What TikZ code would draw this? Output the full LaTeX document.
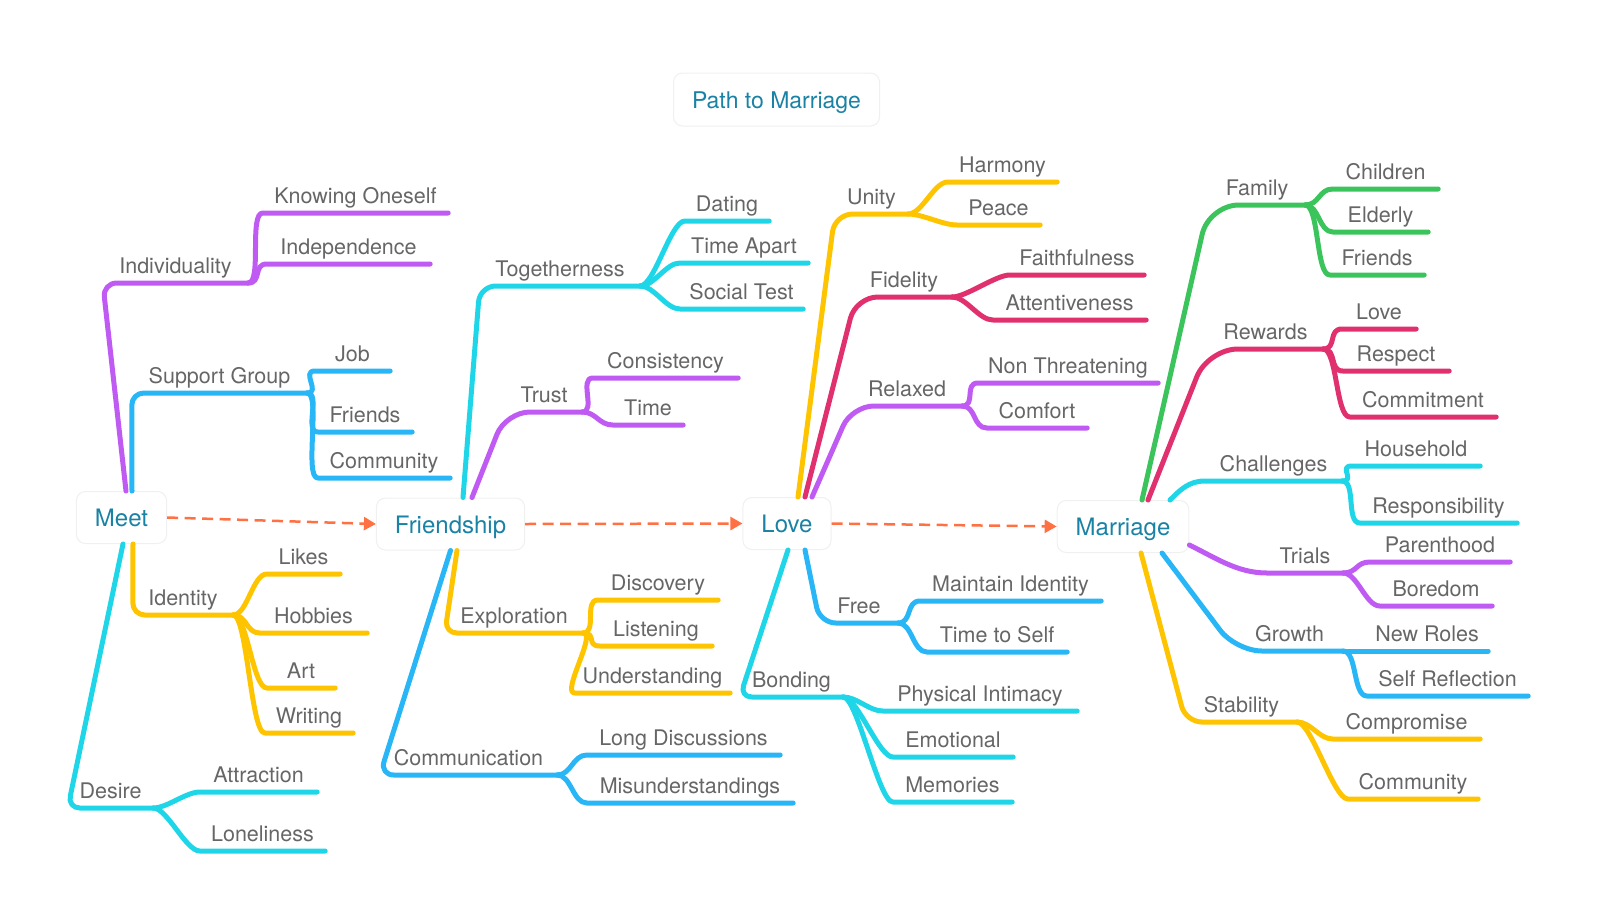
\documentclass[tikz,border=0pt]{standalone}
\usepackage{fontspec}
\setmainfont{TeX Gyre Heros}
\usetikzlibrary{arrows.meta}
\definecolor{mmpurple}{RGB}{191,90,242}
\definecolor{mmblue}{RGB}{41,182,246}
\definecolor{mmcyan}{RGB}{30,214,232}
\definecolor{mmyellow}{RGB}{255,196,0}
\definecolor{mmred}{RGB}{224,49,110}
\definecolor{mmgreen}{RGB}{60,196,92}
\definecolor{labelgray}{RGB}{102,102,102}
\definecolor{topicblue}{RGB}{26,130,165}
\definecolor{flowcolor}{RGB}{255,112,67}

\begin{document}
\begin{tikzpicture}[x=1pt,y=-1pt,
  topic/.style={draw=black!6, line width=1pt, fill=white, rounded corners=9pt, text=topicblue, font=\fontsize{24}{28}\selectfont, minimum height=52pt, inner xsep=18.5pt, text height=18pt, text depth=0pt},
  lbl/.style={anchor=south, inner xsep=0pt, inner ysep=9pt, text depth=0pt, text=labelgray, font=\fontsize{21.5}{26}\selectfont},
  branch/.style={line width=5pt, line cap=round, line join=round},
  purp/.style={branch, draw=mmpurple},
  blu/.style={branch, draw=mmblue},
  cya/.style={branch, draw=mmcyan},
  yel/.style={branch, draw=mmyellow},
  cri/.style={branch, draw=mmred},
  gre/.style={branch, draw=mmgreen},
  twig/.style={out=0, in=180, out distance=14pt, in distance=14pt},
  flow/.style={draw=flowcolor, line width=2.5pt, dash pattern=on 11pt off 6.5pt, -{Triangle[length=12pt,width=13pt]}}]
\useasboundingbox (0,0) rectangle (1600,921);

\node[topic, font=\fontsize{23}{28}\selectfont, minimum height=53pt] (title) at (776.5,99.5) {Path to Marriage};
\node[topic] (meet) at (121.5,517.5) {Meet};
\node[topic] (friend) at (450.5,524) {Friendship};
\node[topic] (love) at (787,523.5) {Love};
\node[topic] (marriage) at (1123,526.5) {Marriage};

\draw[flow] (meet.east) -- (friend.west);
\draw[flow] (friend.east) -- (love.west);
\draw[flow] (love.east) -- (marriage.west);

\node[lbl, minimum width=145pt] (indiv) at (175.5,283) {Individuality};
\node[lbl, minimum width=175pt] (support) at (219.5,393) {Support Group};
\node[lbl, minimum width=100pt] (identity) at (183,615) {Identity};
\node[lbl, minimum width=85pt] (desire) at (110.5,808) {Desire};
\node[lbl, minimum width=160pt] (together) at (560,286) {Togetherness};
\node[lbl, minimum width=76pt] (trust) at (544,412) {Trust};
\node[lbl, minimum width=138pt] (explore) at (514,633) {Exploration};
\node[lbl, minimum width=177pt] (commun) at (468.5,775) {Communication};
\node[lbl, minimum width=73pt] (unity) at (871.5,214) {Unity};
\node[lbl, minimum width=96pt] (fidelity) at (904,297) {Fidelity};
\node[lbl, minimum width=110pt] (relaxed) at (907,406) {Relaxed};
\node[lbl, minimum width=78pt] (free) at (859,623) {Free};
\node[lbl, minimum width=103pt] (bonding) at (791.5,697) {Bonding};
\node[lbl, minimum width=96pt] (family) at (1257,205) {Family};
\node[lbl, minimum width=115pt] (rewards) at (1265.5,349) {Rewards};
\node[lbl, minimum width=137pt] (challenge) at (1273.5,481) {Challenges};
\node[lbl, minimum width=76pt] (trials) at (1305,573) {Trials};
\node[lbl, minimum width=107pt] (growth) at (1289.5,651) {Growth};
\node[lbl, minimum width=111pt] (stability) at (1241.5,722) {Stability};

\node[lbl, minimum width=185pt] (knowing) at (355.5,213) {Knowing Oneself};
\node[lbl, minimum width=163pt] (indep) at (348.5,264) {Independence};
\node[lbl, minimum width=75pt] (job) at (352.5,371) {Job};
\node[lbl, minimum width=94pt] (sfriends) at (365,432) {Friends};
\node[lbl, minimum width=132pt] (scommunity) at (384,478) {Community};
\node[lbl, minimum width=73pt] (likes) at (303.5,574) {Likes};
\node[lbl, minimum width=107pt] (hobbies) at (313.5,633) {Hobbies};
\node[lbl, minimum width=68pt] (art) at (301,688) {Art};
\node[lbl, minimum width=88pt] (writing) at (309,733) {Writing};
\node[lbl, minimum width=117pt] (attract) at (258.5,792) {Attraction};
\node[lbl, minimum width=125pt] (lonely) at (262.5,851) {Loneliness};
\node[lbl, minimum width=84pt] (dating) at (727,221) {Dating};
\node[lbl, minimum width=128pt] (apart) at (744,263) {Time Apart};
\node[lbl, minimum width=123pt] (social) at (741.5,309) {Social Test};
\node[lbl, minimum width=145pt] (consist) at (665.5,378) {Consistency};
\node[lbl, minimum width=70pt] (ttime) at (648,425) {Time};
\node[lbl, minimum width=120pt] (discover) at (658,600) {Discovery};
\node[lbl, minimum width=112pt] (listen) at (656,646) {Listening};
\node[lbl, minimum width=155pt] (underst) at (652.5,693) {Understanding};
\node[lbl, minimum width=193pt] (longdisc) at (683.5,755) {Long Discussions};
\node[lbl, minimum width=206pt] (misund) at (690,803) {Misunderstandings};
\node[lbl, minimum width=109pt] (harmony) at (1002.5,182) {Harmony};
\node[lbl, minimum width=83pt] (peace) at (998.5,225) {Peace};
\node[lbl, minimum width=134pt] (faithful) at (1077,275) {Faithfulness};
\node[lbl, minimum width=153pt] (attent) at (1069.5,320) {Attentiveness};
\node[lbl, minimum width=180pt] (nonthreat) at (1068,383) {Non Threatening};
\node[lbl, minimum width=100pt] (comfort) at (1037,428) {Comfort};
\node[lbl, minimum width=181pt] (maintain) at (1010.5,601) {Maintain Identity};
\node[lbl, minimum width=140pt] (tself) at (997,652) {Time to Self};
\node[lbl, minimum width=194pt] (physical) at (980,711) {Physical Intimacy};
\node[lbl, minimum width=120pt] (emotional) at (953,757) {Emotional};
\node[lbl, minimum width=119pt] (memories) at (952.5,802) {Memories};
\node[lbl, minimum width=105pt] (children) at (1385.5,189) {Children};
\node[lbl, minimum width=95pt] (elderly) at (1380.5,232) {Elderly};
\node[lbl, minimum width=94pt] (ffriends) at (1377,275) {Friends};
\node[lbl, minimum width=74pt] (rlove) at (1379,329) {Love};
\node[lbl, minimum width=106pt] (respect) at (1396,371) {Respect};
\node[lbl, minimum width=146pt] (commit) at (1423,417) {Commitment};
\node[lbl, minimum width=128pt] (household) at (1416,466) {Household};
\node[lbl, minimum width=157pt] (respons) at (1438.5,523) {Responsibility};
\node[lbl, minimum width=140pt] (parent) at (1440,562) {Parenthood};
\node[lbl, minimum width=112pt] (boredom) at (1436,606) {Boredom};
\node[lbl, minimum width=122pt] (newroles) at (1427,651) {New Roles};
\node[lbl, minimum width=161pt] (selfref) at (1447.5,696) {Self Reflection};
\node[lbl, minimum width=147pt] (comprom) at (1406.5,739) {Compromise};
\node[lbl, minimum width=130pt] (mcommunity) at (1413,799) {Community};

\draw[purp, rounded corners=14pt] ([xshift=4.5pt]meet.north) -- (indiv.south west) -- (indiv.south east);
\draw[blu, rounded corners=12pt] ([xshift=10.5pt]meet.north) -- (support.south west) -- (support.south east);
\draw[yel, rounded corners=12pt] ([xshift=11.5pt]meet.south) -- (identity.south west) -- (identity.south east);
\draw[cya, rounded corners=12pt] ([xshift=1.5pt]meet.south) -- (desire.south west) -- (desire.south east);
\draw[cya, rounded corners=16pt] ([xshift=12.5pt]friend.north) -- (together.south west) -- (together.south east);
\draw[purp, rounded corners=24pt] ([xshift=21.5pt]friend.north) -- (trust.south west) -- (trust.south east);
\draw[yel, rounded corners=12pt] ([xshift=6.5pt]friend.south) -- (explore.south west) -- (explore.south east);
\draw[blu, rounded corners=14pt] (friend.south) -- (commun.south west) -- (commun.south east);
\draw[yel, rounded corners=18pt] ([xshift=11pt]love.north) -- (unity.south west) -- (unity.south east);
\draw[cri, rounded corners=22pt] ([xshift=18pt]love.north) -- (fidelity.south west) -- (fidelity.south east);
\draw[purp, rounded corners=22pt] ([xshift=25pt]love.north) -- (relaxed.south west) -- (relaxed.south east);
\draw[blu, rounded corners=16pt] ([xshift=18pt]love.south) -- (free.south west) -- (free.south east);
\draw[cya, rounded corners=12pt] ([xshift=1pt]love.south) -- (bonding.south west) -- (bonding.south east);
\draw[gre, rounded corners=30pt] ([xshift=19pt]marriage.north) -- (family.south west) -- (family.south east);
\draw[cri, rounded corners=30pt] ([xshift=25pt]marriage.north) -- (rewards.south west) -- (rewards.south east);
\draw[cya] ([xshift=47pt]marriage.north) .. controls ([xshift=57pt,yshift=10pt]marriage.north) and ([xshift=-16pt]challenge.south west) .. (challenge.south west) -- (challenge.south east);
\draw[purp] ([yshift=-18.5pt]marriage.east) .. controls ([xshift=25pt,yshift=-30.5pt]marriage.east) and ([xshift=-30pt]trials.south west) .. (trials.south west) -- (trials.south east);
\draw[blu, rounded corners=26pt] ([xshift=39pt]marriage.south) -- (growth.south west) -- (growth.south east);
\draw[yel, rounded corners=16pt] ([xshift=18pt]marriage.south) -- (stability.south west) -- (stability.south east);

\draw[purp] (indiv.south east) to[twig] (knowing.south west) -- (knowing.south east);
\draw[purp] (indiv.south east) to[twig] (indep.south west) -- (indep.south east);
\draw[blu] (support.south east) to[twig] (job.south west) -- (job.south east);
\draw[blu] (support.south east) to[twig] (sfriends.south west) -- (sfriends.south east);
\draw[blu] (support.south east) to[twig] (scommunity.south west) -- (scommunity.south east);
\draw[yel] (identity.south east) to[twig] (likes.south west) -- (likes.south east);
\draw[yel] (identity.south east) to[twig] (hobbies.south west) -- (hobbies.south east);
\draw[yel] (identity.south east) to[twig] (art.south west) -- (art.south east);
\draw[yel] (identity.south east) to[twig] (writing.south west) -- (writing.south east);
\draw[cya] (desire.south east) to[twig] (attract.south west) -- (attract.south east);
\draw[cya] (desire.south east) to[twig] (lonely.south west) -- (lonely.south east);
\draw[cya] (together.south east) to[twig] (dating.south west) -- (dating.south east);
\draw[cya] (together.south east) to[twig] (apart.south west) -- (apart.south east);
\draw[cya] (together.south east) to[twig] (social.south west) -- (social.south east);
\draw[purp] (trust.south east) to[twig] (consist.south west) -- (consist.south east);
\draw[purp] (trust.south east) to[twig] (ttime.south west) -- (ttime.south east);
\draw[yel] (explore.south east) to[twig] (discover.south west) -- (discover.south east);
\draw[yel] (explore.south east) to[twig] (listen.south west) -- (listen.south east);
\draw[yel] (explore.south east) to[twig] (underst.south west) -- (underst.south east);
\draw[blu] (commun.south east) to[twig] (longdisc.south west) -- (longdisc.south east);
\draw[blu] (commun.south east) to[twig] (misund.south west) -- (misund.south east);
\draw[yel] (unity.south east) to[twig] (harmony.south west) -- (harmony.south east);
\draw[yel] (unity.south east) to[twig] (peace.south west) -- (peace.south east);
\draw[cri] (fidelity.south east) to[twig] (faithful.south west) -- (faithful.south east);
\draw[cri] (fidelity.south east) to[twig] (attent.south west) -- (attent.south east);
\draw[purp] (relaxed.south east) to[twig] (nonthreat.south west) -- (nonthreat.south east);
\draw[purp] (relaxed.south east) to[twig] (comfort.south west) -- (comfort.south east);
\draw[blu] (free.south east) to[twig] (maintain.south west) -- (maintain.south east);
\draw[blu] (free.south east) to[twig] (tself.south west) -- (tself.south east);
\draw[cya] (bonding.south east) to[twig] (physical.south west) -- (physical.south east);
\draw[cya] (bonding.south east) to[twig] (emotional.south west) -- (emotional.south east);
\draw[cya] (bonding.south east) to[twig] (memories.south west) -- (memories.south east);
\draw[gre] (family.south east) to[twig] (children.south west) -- (children.south east);
\draw[gre] (family.south east) to[twig] (elderly.south west) -- (elderly.south east);
\draw[gre] (family.south east) to[twig] (ffriends.south west) -- (ffriends.south east);
\draw[cri] (rewards.south east) to[twig] (rlove.south west) -- (rlove.south east);
\draw[cri] (rewards.south east) to[twig] (respect.south west) -- (respect.south east);
\draw[cri] (rewards.south east) to[twig] (commit.south west) -- (commit.south east);
\draw[cya] (challenge.south east) to[twig] (household.south west) -- (household.south east);
\draw[cya] (challenge.south east) to[twig] (respons.south west) -- (respons.south east);
\draw[purp] (trials.south east) to[twig] (parent.south west) -- (parent.south east);
\draw[purp] (trials.south east) to[twig] (boredom.south west) -- (boredom.south east);
\draw[blu] (growth.south east) to[twig] (newroles.south west) -- (newroles.south east);
\draw[blu] (growth.south east) to[twig] (selfref.south west) -- (selfref.south east);
\draw[yel] (stability.south east) to[twig] (comprom.south west) -- (comprom.south east);
\draw[yel] (stability.south east) to[twig] (mcommunity.south west) -- (mcommunity.south east);
\end{tikzpicture}
\end{document}
